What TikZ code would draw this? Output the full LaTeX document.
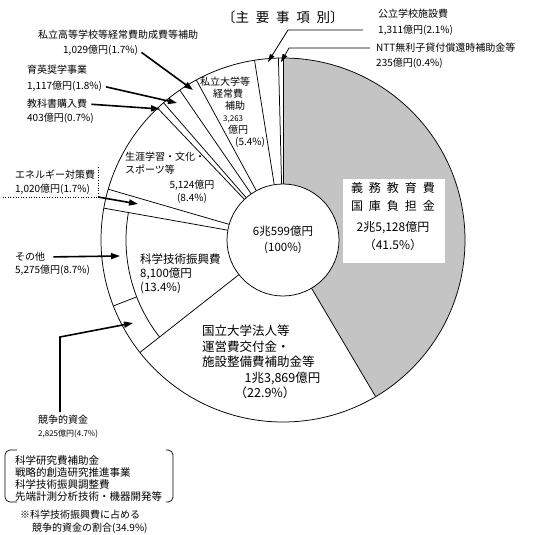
\documentclass[tikz,border=0pt]{standalone}
\usepackage{fontspec}
\setmainfont{Noto Sans CJK JP}
\usetikzlibrary{arrows.meta, positioning, patterns.meta}
\newcommand*{\gp}{\hspace{0.5em}}

\begin{document}
\begin{tikzpicture}[x=1pt, y=1pt,
    lbl/.style={font=\fontsize{10}{15}\selectfont, inner sep=0pt, align=left},
    small/.style={font=\fontsize{8}{10}\selectfont, inner sep=0pt},
    big/.style={font=\fontsize{12.5}{15.5}\selectfont, inner sep=0pt, align=left},
    arr/.style={line width=1.6pt, -{Triangle[length=9pt,width=6pt]}, shorten <=4pt},
    lead/.style={line width=0.8pt, -{Triangle[length=8pt,width=5pt]}},
    slice/.style={line width=0.75pt}]
  \useasboundingbox (-283,240) rectangle (251,-295);
  \def\R{182}
  \def\r{56}
  % shaded slice and its label box
  \fill[pattern={Dots[distance=2pt,radius=0.65pt]}] (0,0) -- (90:\R)
    arc[start angle=90, end angle=-59.4, radius=\R] -- cycle;
  \fill[white] (60,61) rectangle (162,-23);
  % slice borders
  \foreach \a in {90,91.44,99,118.44,124.56,131.04,133.56,163.8,169.92,218.16,300.6}
    \draw[slice] (\a:\r) -- (\a:\R);
  \draw[slice] (169.92:157) arc[start angle=169.92, end angle=218.16, radius=157];
  \draw[slice] (201.24:157) -- (201.24:\R);
  \draw[slice] (0,0) circle[radius=\R];
  \node[circle, draw, slice, fill=white, minimum size=112pt, inner sep=0pt,
        font=\fontsize{11.5}{16}\selectfont, align=center] (total) at (0,0) {6兆599億円\\(100\%)};

  \node[font=\fontsize{13.5}{15}\selectfont] (title) at (0,223) {〔主\gp{}要\gp{}事\gp{}項\gp{}別〕};

  % labels inside the pie
  \node[font=\fontsize{12}{18}\selectfont, align=center, inner sep=0pt] (gimu) at (110,23)
    {義\gp{}務\gp{}教\gp{}育\gp{}費\\国\gp{}庫\gp{}負\gp{}担\gp{}金\\[3pt]2兆5,128億円\\（41.5\%）};
  \node[big, anchor=north west] (kokuritsuName) at (-81,-85)
    {国立大学法人等\\運営費交付金・\\施設整備費補助金等\\\hspace*{3.4em}1兆3,869億円\\\hspace*{2.6em}（22.9\%）};
  \node[lbl, anchor=north west, font=\fontsize{11.5}{14}\selectfont] (kagakuName) at (-143,-14)
    {科学技術振興費\\8,100億円\\(13.4\%)};
  \node[lbl, anchor=north west, font=\fontsize{10}{13}\selectfont] (shogaiName) at (-158,88)
    {生涯学習・文化・\\スポーツ等};
  \node[lbl, align=center, font=\fontsize{10}{13}\selectfont] (shogaiAmt) at (-91,48) {5,124億円\\(8.4\%)};
  \node[lbl, anchor=north west, font=\fontsize{10}{12}\selectfont] (shidaiName) at (-83,163)
    {私立大学等\\\hspace*{1.3em}経常費\\\hspace*{2.5em}補助\\\hspace*{2.3em}{\fontsize{8}{12}\selectfont 3,263}\\\hspace*{2.8em}億円\\\hspace*{3.5em}(5.4\%)};

  % labels on the right
  \node[lbl, anchor=north west, font=\fontsize{10}{16}\selectfont] (koritsu) at (95,231)
    {公立学校施設費\\ 1,311億円(2.1\%)};
  \coordinate (koritsuS) at (80,210);
  \coordinate (koritsuT) at (-15,178);
  \draw[lead] (koritsuS) -- ++(-75,0) -- (koritsuT);
  \node[lbl, anchor=north west] (ntt) at (93,197) {NTT無利子貸付償還時補助金等\\235億円(0.4\%)};
  \coordinate (nttS) at (87,192);
  \coordinate (nttT) at (-2,178);
  \draw[lead] (nttS) -- ++(-81,0) -- (nttT);

  % labels on the left
  \node[lbl, anchor=west] (shikoName) at (-245,205) {私立高等学校等経常費助成費等補助};
  \node[lbl, anchor=west] (shikoAmt) at (-220,190) {1,029億円(1.7\%)};
  \coordinate (shikoT) at (-90,150);
  \draw[arr] (shikoAmt.east) -- (shikoT);

  \node[lbl, anchor=west] (ikueiName) at (-256,170) {育英奨学事業};
  \node[lbl, anchor=west] (ikueiAmt) at (-256,154) {1,117億円(1.8\%)};
  \coordinate (ikueiT) at (-106,137);
  \draw[arr] (ikueiAmt.east) -- (ikueiT);

  \node[lbl, anchor=west] (kyokaName) at (-256,136) {教科書購入費};
  \node[lbl, anchor=west] (kyokaAmt) at (-256,122) {403億円(0.7\%)};
  \coordinate (kyokaT) at (-123,131);
  \draw[arr] (kyokaName.east) -- (kyokaT);

  \node[lbl, anchor=west] (eneName) at (-268,65) {エネルギー対策費};
  \node[lbl, anchor=west] (eneAmt) at (-268,51) {1,020億円(1.7\%)};
  \coordinate (eneC) at (-185,43);
  \coordinate (eneT) at (-145,36);
  \draw[dotted, line width=0.6pt] (-185,73) -- (eneC) -- (-280,43);
  \draw[arr, shorten <=0pt] (eneC) -- (eneT);

  \node[lbl, anchor=west] (sonotaName) at (-268,-17) {その他};
  \node[lbl, anchor=west] (sonotaAmt) at (-268,-30) {5,275億円(8.7\%)};
  \coordinate (sonotaT) at (-163,-16);
  \draw[arr, shorten <=8pt] (sonotaName.east) -- (sonotaT);

  % competitive funds
  \node[lbl, anchor=west] (kyosoName) at (-245,-180) {競争的資金};
  \node[small, anchor=west] (kyosoAmt) at (-245,-194) {2,825億円(4.7\%)};
  \coordinate (kyosoS) at (-223,-172);
  \coordinate (kyosoT) at (-150,-83);
  \draw[arr, shorten <=0pt] (kyosoS) -- ++(0,75) -- (kyosoT);

  \draw[line width=0.7pt, rounded corners=5pt] (-266,-210) -| (-278,-236) |- (-266,-262);
  \draw[line width=0.7pt, rounded corners=5pt] (-117,-210) -| (-110,-236) |- (-117,-262);
  \node[lbl, anchor=north west, font=\fontsize{10.5}{12}\selectfont] (kyosoList) at (-268,-215)
    {科学研究費補助金\\戦略的創造研究推進事業\\科学技術振興調整費\\先端計測分析技術・機器開発等};
  \node[lbl, anchor=north west, font=\fontsize{10}{13}\selectfont] (chuNote) at (-263,-270)
    {※科学技術振興費に占める\\\hspace*{1.2em}競争的資金の割合(34.9\%)};
\end{tikzpicture}
\end{document}
